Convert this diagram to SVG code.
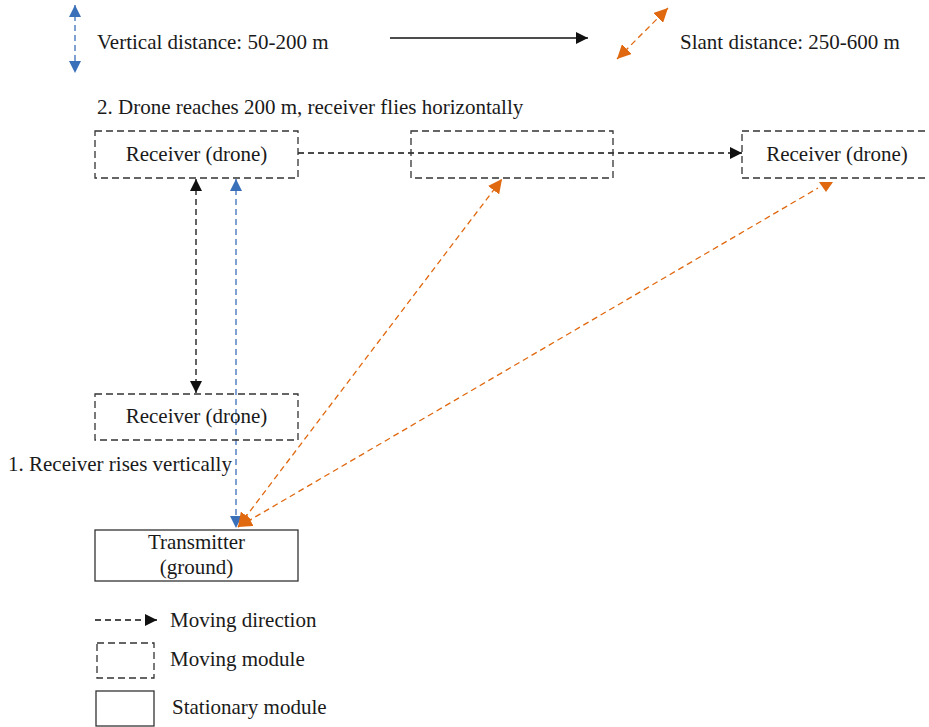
<svg xmlns="http://www.w3.org/2000/svg" width="929" height="727" viewBox="0 0 929 727">
<style>
text{font-family:"Liberation Serif","Times New Roman",serif;font-size:21px;fill:#1a1a1a}
.mv{fill:none;stroke:#333;stroke-width:1.3;stroke-dasharray:7 4}
.st{fill:none;stroke:#333;stroke-width:1.3}
.bk{stroke:#111;stroke-width:1.3;stroke-dasharray:6 4;fill:none}
.bl{stroke:#3a6fba;stroke-width:1.3;stroke-dasharray:6 4;fill:none}
.or{stroke:#e0680f;stroke-width:1.3;stroke-dasharray:6 4;fill:none}
</style>
<defs>
<marker id="ak" viewBox="0 0 10 10" refX="10" refY="5" markerWidth="12" markerHeight="12" markerUnits="userSpaceOnUse" orient="auto-start-reverse"><path d="M0,0L10,5L0,10z" fill="#111"/></marker>
<marker id="ab" viewBox="0 0 10 10" refX="10" refY="5" markerWidth="12" markerHeight="12" markerUnits="userSpaceOnUse" orient="auto-start-reverse"><path d="M0,0L10,5L0,10z" fill="#3a6fba"/></marker>
<marker id="ao" viewBox="0 0 10 10" refX="10" refY="5" markerWidth="14" markerHeight="14" markerUnits="userSpaceOnUse" orient="auto-start-reverse"><path d="M0,0L10,5L0,10z" fill="#e0680f"/></marker>
</defs>

<g id="legend-top">
<line class="bl" x1="75" y1="5" x2="75" y2="73" marker-start="url(#ab)" marker-end="url(#ab)"/>
<text x="97" y="49">Vertical distance: 50-200 m</text>
<line x1="390" y1="38" x2="588" y2="38" stroke="#111" stroke-width="1.3" marker-end="url(#ak)"/>
<line class="or" x1="617" y1="59" x2="668" y2="8" marker-start="url(#ao)" marker-end="url(#ao)"/>
<text x="680" y="49">Slant distance: 250-600 m</text>
<text x="97" y="114">2. Drone reaches 200 m, receiver flies horizontally</text>
<text x="8" y="471">1. Receiver rises vertically</text>
</g>

<g id="connectors">
<line class="bk" x1="298" y1="153" x2="742" y2="153" marker-end="url(#ak)"/>
<line class="bk" x1="196" y1="179" x2="196" y2="393" marker-start="url(#ak)" marker-end="url(#ak)"/>
<line class="bl" x1="236" y1="179" x2="236" y2="528" marker-start="url(#ab)" marker-end="url(#ab)"/>
<line class="or" x1="238" y1="527" x2="502" y2="179" marker-start="url(#ao)" marker-end="url(#ao)"/>
<line class="or" x1="238" y1="527" x2="818" y2="188" marker-start="url(#ao)"/>
<polygon points="819,182 833,182 826,192" fill="#e0680f"/>
</g>

<g id="receiver1">
<rect class="mv" x="95" y="131" width="203" height="47"/>
<text x="196.5" y="161" text-anchor="middle">Receiver (drone)</text>
</g>
<g id="receiver-mid">
<rect class="mv" x="411" y="131" width="202" height="47"/>
</g>
<g id="receiver3">
<rect class="mv" x="742" y="131" width="200" height="47"/>
<text x="837" y="161" text-anchor="middle">Receiver (drone)</text>
</g>
<g id="receiver-low">
<rect class="mv" x="95" y="394" width="203" height="46"/>
<text x="196.5" y="423" text-anchor="middle">Receiver (drone)</text>
</g>
<g id="transmitter">
<rect class="st" x="95" y="530" width="203" height="51"/>
<text x="196.5" y="549" text-anchor="middle">Transmitter</text>
<text x="196.5" y="574" text-anchor="middle">(ground)</text>
</g>

<g id="legend-bottom">
<line class="bk" x1="95" y1="620" x2="157" y2="620" marker-end="url(#ak)"/>
<text x="170" y="627">Moving direction</text>
<rect class="mv" x="97" y="643" width="57" height="35"/>
<text x="170" y="666">Moving module</text>
<rect class="st" x="96" y="691" width="58" height="35"/>
<text x="172" y="714">Stationary module</text>
</g>
</svg>
